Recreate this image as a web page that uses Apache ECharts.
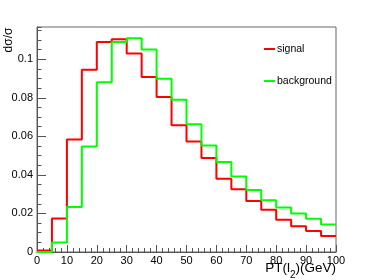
<!DOCTYPE html>
<html>
<head>
<meta charset="utf-8">
<script src="https://cdn.jsdelivr.net/npm/echarts@6/dist/echarts.min.js"></script>
<style>
html,body{margin:0;padding:0;background:#fff;}
#c{width:374px;height:280px;}
</style>
</head>
<body>
<div id="c"></div>
<script>
// Bin edges of PT(l2) in GeV (21 edges -> 20 bins)
const binEdges = [0, 5, 10, 15, 20, 25, 30, 35, 40, 45, 50, 55, 60, 65, 70, 75, 80, 85, 90, 95, 100];
// Normalised distributions dσ/σ per bin
const signal = [0.0008, 0.0174, 0.0583, 0.0945, 0.1089, 0.1103, 0.1030, 0.0908, 0.0804, 0.0658,
                0.0573, 0.0488, 0.0380, 0.0325, 0.0264, 0.0219, 0.0167, 0.0134, 0.0109, 0.0083];
const background = [0.0000, 0.0049, 0.0233, 0.0547, 0.0880, 0.1089, 0.1109, 0.1050, 0.0898, 0.0790,
                    0.0663, 0.0552, 0.0467, 0.0391, 0.0321, 0.0268, 0.0231, 0.0200, 0.0172, 0.0143];
const seriesNames = ['signal', 'background'];
const yTickLabels = ['0', '0.02', '0.04', '0.06', '0.08', '0.1'];

function histData(vals) {
  const d = [];
  for (let i = 0; i < vals.length; i++) d.push([binEdges[i], vals[i]]);
  d.push([binEdges[binEdges.length - 1], vals[vals.length - 1]]);
  return d;
}

const axisColor = '#555';
const font = 'Liberation Sans, Arial, Helvetica, sans-serif';
const chart = echarts.init(document.getElementById('c'), null, {renderer: 'canvas'});
chart.setOption({
  animation: false,
  backgroundColor: '#fff',
  textStyle: {fontFamily: font},
  grid: {left: 37, right: 38, top: 27, bottom: 28, show: true, borderColor: '#666', borderWidth: 1,
         backgroundColor: 'transparent', containLabel: false, outerBoundsMode: 'none'},
  legend: {
    orient: 'vertical', left: 264, top: 42, itemGap: 18, padding: 0,
    itemWidth: 11, itemHeight: 2, icon: 'rect',
    textStyle: {fontSize: 10.5, color: '#000', padding: [0, 0, 0, -3], lineHeight: 14, fontFamily: font},
    data: seriesNames
  },
  xAxis: {
    type: 'value', min: 0, max: 100, interval: 10,
    axisLine: {lineStyle: {color: axisColor, width: 1}},
    axisTick: {inside: true, length: 7, lineStyle: {color: axisColor}},
    minorTick: {show: true, splitNumber: 5, length: 4, lineStyle: {color: axisColor}},
    splitLine: {show: false},
    axisLabel: {fontSize: 11, color: '#000', margin: 3, fontFamily: font}
  },
  yAxis: [{
    type: 'value', min: 0, max: 0.1167, interval: 0.02, position: 'left',
    axisLine: {show: true, lineStyle: {color: axisColor, width: 1}},
    axisTick: {show: true, inside: true, length: 9, lineStyle: {color: axisColor}},
    splitLine: {show: false},
    axisLabel: {
      fontSize: 11, color: '#000', margin: 4, showMaxLabel: false, fontFamily: font,
      formatter: function (v) {
        const i = Math.round(v / 0.02);
        if (Math.abs(v - i * 0.02) > 1e-6) return '';
        return yTickLabels[i] !== undefined ? yTickLabels[i] : '';
      }
    }
  }, {
    type: 'value', min: 0, max: 0.1167, interval: 0.005, position: 'left',
    axisLine: {show: false},
    axisTick: {show: true, inside: true, length: 4.5, lineStyle: {color: axisColor}},
    splitLine: {show: false},
    axisLabel: {show: false}
  }],
  graphic: [{
    type: 'text', x: 9, y: 40, rotation: Math.PI / 2,
    style: {text: 'dσ/σ', fontSize: 12, fill: '#000', align: 'center', verticalAlign: 'middle', fontFamily: font}
  }, {
    type: 'text', x: 336, y: 261,
    style: {
      text: '{a|PT(l}{s|2}{a|)(GeV)}', align: 'right', verticalAlign: 'top',
      rich: {
        a: {fontSize: 13.5, fill: '#000', fontFamily: font, verticalAlign: 'top'},
        s: {fontSize: 10, fill: '#000', fontFamily: font, padding: [9, 0, 0, 0], verticalAlign: 'top'}
      }
    }
  }],
  series: [{
    name: seriesNames[0], type: 'line', step: 'end', symbol: 'none',
    data: histData(signal), color: '#ff0000',
    lineStyle: {color: '#ff0000', width: 2}
  }, {
    name: seriesNames[1], type: 'line', step: 'end', symbol: 'none',
    data: histData(background), color: '#00ff00',
    lineStyle: {color: '#00ff00', width: 2}
  }]
});
</script>
</body>
</html>
